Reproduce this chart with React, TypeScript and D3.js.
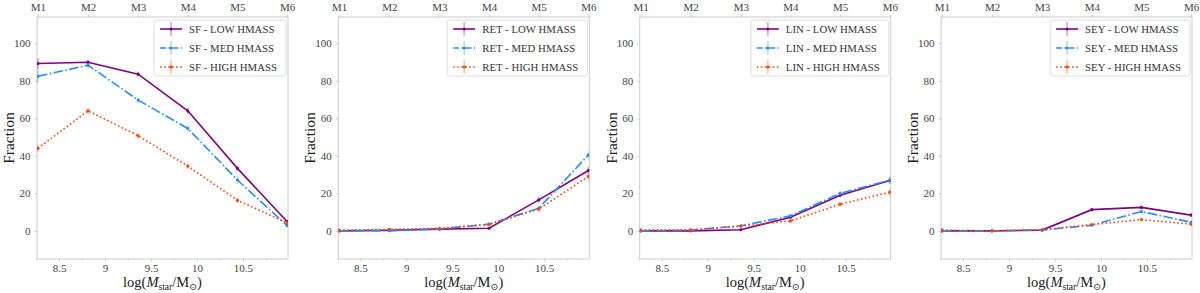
import React, { useEffect, useRef } from "react";
import * as d3 from "d3";

const massBins = ["M1", "M2", "M3", "M4", "M5", "M6"];
const massCenters = [8.27, 8.815, 9.36, 9.9, 10.44, 10.98];
const xTicks = [8.5, 9, 9.5, 10, 10.5];
const xMinorTicks = [8.25, 8.75, 9.25, 9.75, 10.25, 10.75];
const yTicks = [0, 20, 40, 60, 80, 100];
const panelNames = ["SF", "RET", "LIN", "SEY"];
const groupNames = ["LOW HMASS", "MED HMASS", "HIGH HMASS"];

const sfLow = [89.2, 89.9, 83.5, 64, 33.3, 5];
const sfMed = [82.4, 88.3, 69.7, 54.6, 27.1, 2.8];
const sfHigh = [44, 64, 50.7, 34.5, 16.3, 4.3];
const sfLowErr = [3, 1.5, 1.5, 1.8, 1.5, 0.8];
const sfMedErr = [3.5, 1.5, 1.5, 1.8, 2.2, 0.8];
const sfHighErr = [2, 1.8, 1.5, 1.5, 1.5, 1];

const retLow = [0, 0.3, 0.9, 1.4, 16.5, 32.2];
const retMed = [0, 0, 1, 3.6, 12, 40.5];
const retHigh = [0.4, 0.8, 1.4, 3.4, 11.6, 29];
const retLowErr = [0.5, 0.5, 0.5, 0.6, 1.5, 2];
const retMedErr = [1, 0.5, 0.5, 0.8, 1.5, 2];
const retHighErr = [0.8, 0.6, 0.5, 0.8, 1.2, 2];

const linLow = [0, 0, 0.6, 7.3, 19, 26.8];
const linMed = [0, 0.4, 2.7, 8, 20, 27];
const linHigh = [0.5, 0.5, 2.5, 5.3, 14.2, 20.6];
const linLowErr = [0.5, 0.4, 0.5, 0.8, 1.2, 1.5];
const linMedErr = [1, 0.5, 0.6, 1, 1.5, 2];
const linHighErr = [0.8, 0.5, 0.6, 0.8, 1.2, 2];

const seyLow = [0, 0, 0.4, 11.3, 12.5, 8.4];
const seyMed = [0, 0, 0.4, 3, 10.3, 4.6];
const seyHigh = [0.5, 0, 0.6, 3.4, 6, 3.6];
const seyLowErr = [0.5, 0.3, 0.4, 1, 1, 1];
const seyMedErr = [1, 0.3, 0.4, 0.6, 1, 0.8];
const seyHighErr = [0.8, 0.3, 0.5, 0.6, 0.8, 0.8];

const panelValues = [
  [sfLow, sfMed, sfHigh],
  [retLow, retMed, retHigh],
  [linLow, linMed, linHigh],
  [seyLow, seyMed, seyHigh],
];
const panelErrors = [
  [sfLowErr, sfMedErr, sfHighErr],
  [retLowErr, retMedErr, retHighErr],
  [linLowErr, linMedErr, linHighErr],
  [seyLowErr, seyMedErr, seyHighErr],
];

const colors = ["#800080", "#1E90FF", "#FF4500"];
const dashes = [null, "9.6,2.4,1.6,2.4", "1.6,2.4"];

const W = 1200;
const H = 293;
const panelLefts = [37, 338.3, 639.7, 941];
const panelW = 251;
const top = 17;
const bottom = 259;
const FONT = '"Liberation Serif", "DejaVu Serif", serif';
const spineColor = "#cccccc";
const textColor = "#444444";

export default function App() {
  const ref = useRef<SVGSVGElement | null>(null);

  useEffect(() => {
    const svg = d3.select(ref.current);
    svg.selectAll("*").remove();
    svg.append("rect").attr("width", W).attr("height", H).attr("fill", "white");

    panelNames.forEach((pname, pi) => {
      const left = panelLefts[pi];
      const x = d3.scaleLinear().domain([8.26, 10.99]).range([left, left + panelW]);
      const y = d3.scaleLinear().domain([-15, 114]).range([bottom, top]);
      const g = svg.append("g");

      g.append("rect")
        .attr("x", left).attr("y", top)
        .attr("width", panelW).attr("height", bottom - top)
        .attr("fill", "none").attr("stroke", spineColor).attr("stroke-width", 1);

      const bx = d3.axisBottom(x).tickValues(xTicks).tickFormat((d: any) => String(d)).tickSize(2.5).tickPadding(3);
      const gb = g.append("g").attr("transform", `translate(0,${bottom})`).call(bx as any);
      const bxm = d3.axisBottom(x).tickValues(xMinorTicks).tickFormat(() => "").tickSize(1.5);
      const gbm = g.append("g").attr("transform", `translate(0,${bottom})`).call(bxm as any);
      const ly = d3.axisLeft(y).tickValues(yTicks).tickSize(2.5).tickPadding(4);
      const gl = g.append("g").attr("transform", `translate(${left},0)`).call(ly as any);
      const tx = d3.axisTop(x).tickValues(massCenters).tickFormat((_d: any, i: number) => massBins[i]).tickSize(2.5).tickPadding(3.5);
      const gt = g.append("g").attr("transform", `translate(0,${top})`).call(tx as any);

      [gb, gbm, gl, gt].forEach((a) => {
        a.attr("font-family", null);
        a.select(".domain").remove();
        a.selectAll("line").attr("stroke", spineColor);
        a.selectAll("text").attr("fill", textColor).style("font-family", FONT).style("font-size", "11px");
      });

      svg.append("text")
        .attr("transform", `translate(${left - 23},${(top + bottom) / 2}) rotate(-90)`)
        .attr("text-anchor", "middle")
        .style("font-family", FONT).style("font-size", "15.5px").attr("fill", "#222")
        .text("Fraction");
      const xl = svg.append("text")
        .attr("x", left + panelW / 2).attr("y", 287)
        .attr("text-anchor", "middle")
        .style("font-family", FONT).style("font-size", "14.5px").attr("fill", "#222");
      xl.append("tspan").text("log(");
      xl.append("tspan").style("font-style", "italic").text("M");
      xl.append("tspan").style("font-size", "9.5px").attr("dy", 2.5).text("star");
      xl.append("tspan").attr("dy", -2.5).text("/M");
      xl.append("tspan").style("font-size", "9.5px").attr("dy", 2.5).text("⊙");
      xl.append("tspan").attr("dy", -2.5).text(")");

      const clipId = `clip${pi}`;
      svg.append("clipPath").attr("id", clipId).append("rect")
        .attr("x", left).attr("y", top).attr("width", panelW).attr("height", bottom - top);
      const plot = svg.append("g").attr("clip-path", `url(#${clipId})`);
      panelValues[pi].forEach((vals, si) => {
        const errs = panelErrors[pi][si];
        const pts = vals.map((v, i) => [massCenters[i], v, errs[i]]);
        plot.selectAll(null).data(pts).enter().append("line")
          .attr("x1", (d) => x(d[0])).attr("x2", (d) => x(d[0]))
          .attr("y1", (d) => y(d[1] - d[2])).attr("y2", (d) => y(d[1] + d[2]))
          .attr("stroke", colors[si]).attr("stroke-opacity", 0.3).attr("stroke-width", 1.8);
        const line = d3.line<number[]>().x((d) => x(d[0])).y((d) => y(d[1]));
        const path = plot.append("path").datum(pts).attr("d", line as any)
          .attr("fill", "none").attr("stroke", colors[si]).attr("stroke-width", 1.6);
        if (dashes[si]) path.attr("stroke-dasharray", dashes[si] as string);
        plot.selectAll(null).data(pts).enter().append("circle")
          .attr("cx", (d) => x(d[0])).attr("cy", (d) => y(d[1])).attr("r", 1.6)
          .attr("fill", colors[si]);
      });

      const lg = svg.append("g");
      const box = lg.append("rect");
      const labels = groupNames.map((gn) => `${pname} - ${gn}`);
      const rowY = [29, 48, 67];
      const texts = labels.map((lab, i) =>
        lg.append("text").attr("y", rowY[i]).attr("dy", "0.35em")
          .style("font-family", FONT).style("font-size", "10.8px").attr("fill", "#333").text(lab)
      );
      let maxW = 0;
      texts.forEach((t) => {
        const n = t.node() as SVGTextElement;
        maxW = Math.max(maxW, n.getComputedTextLength());
      });
      const boxRight = left + panelW - 2;
      const boxW = maxW + 44;
      const boxLeft = boxRight - boxW;
      box.attr("x", boxLeft).attr("y", 20).attr("width", boxW).attr("height", 56)
        .attr("rx", 2.5).attr("fill", "white").attr("fill-opacity", 0.8)
        .attr("stroke", "#dddddd").attr("stroke-width", 1);
      texts.forEach((t) => t.attr("x", boxLeft + 35));
      rowY.forEach((ry, si) => {
        const hx1 = boxLeft + 6, hx2 = boxLeft + 28, hm = (hx1 + hx2) / 2;
        lg.append("line").attr("x1", hm).attr("x2", hm).attr("y1", ry - 7).attr("y2", ry + 7)
          .attr("stroke", colors[si]).attr("stroke-opacity", 0.3).attr("stroke-width", 1.8);
        const hl = lg.append("line").attr("x1", hx1).attr("x2", hx2).attr("y1", ry).attr("y2", ry)
          .attr("stroke", colors[si]).attr("stroke-width", 1.6);
        if (si === 1) hl.attr("stroke-dasharray", "6,2.4,1.6,2.4");
        if (si === 2) hl.attr("stroke-dasharray", "1.6,2.4");
        lg.append("circle").attr("cx", hm).attr("cy", ry).attr("r", 1.6).attr("fill", colors[si]);
      });
    });
  }, []);

  return (
    <svg ref={ref} width={W} height={H} style={{ position: "absolute", left: 0, top: 0, display: "block" }} />
  );
}
